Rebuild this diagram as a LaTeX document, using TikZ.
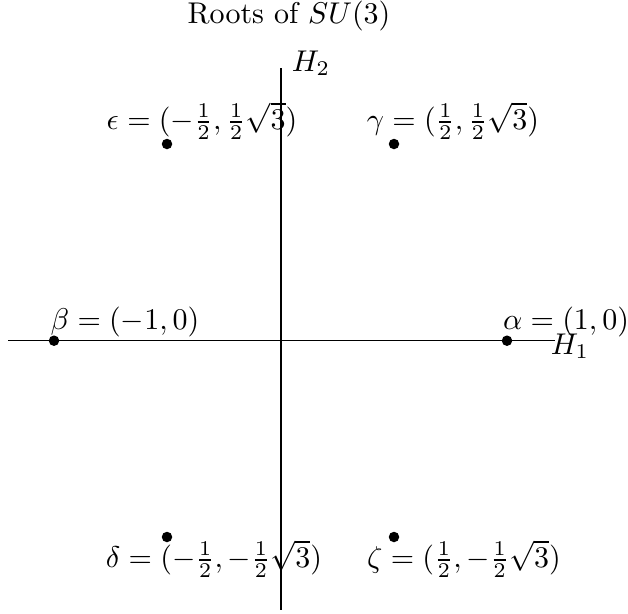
\documentclass[tikz,border=0pt]{standalone}
\begin{document}
\begin{tikzpicture}[x=0.3333pt,y=-0.3333pt,
  rootdot/.style={circle,fill=black,inner sep=0pt,minimum size=3.5pt},
  lbl/.style={inner sep=0pt},
  axis/.style={line width=0.4pt}]
\useasboundingbox (0,0) rectangle (628,613);
% axes
\coordinate (xl) at (8,340.7);
\coordinate (xr) at (555,340.7);
\coordinate (yt) at (281,68);
\coordinate (yb) at (281,610);
\draw[axis] (xl) -- (xr);
\draw[axis] (yt) -- (yb);
% title and axis labels
\node[lbl] (title) at (289,16) {Roots of $SU(3)$};
\node[lbl] (h1) at (570,346) {$H_1$};
\node[lbl] (h2) at (311,63) {$H_2$};
% roots
\node[rootdot] (alpha) at (507,340.7) {};
\node[rootdot] (beta) at (54,340.7) {};
\node[rootdot] (gamma) at (394,144) {};
\node[rootdot] (eps) at (167,144) {};
\node[rootdot] (delta) at (167,537) {};
\node[rootdot] (zeta) at (394,537) {};
% root labels
\node[lbl] (la) at (566,322) {$\alpha=(1,0)$};
\node[lbl] (lb) at (125,322) {$\beta=(-1,0)$};
\node[lbl] (lg) at (453,121) {$\gamma=(\frac{1}{2},\frac{1}{2}\sqrt{3})$};
\node[lbl] (le) at (202,121) {$\epsilon=(-\frac{1}{2},\frac{1}{2}\sqrt{3})$};
\node[lbl] (ld) at (214,559) {$\delta=(-\frac{1}{2},-\frac{1}{2}\sqrt{3})$};
\node[lbl] (lz) at (464,559) {$\zeta=(\frac{1}{2},-\frac{1}{2}\sqrt{3})$};
\end{tikzpicture}
\end{document}
